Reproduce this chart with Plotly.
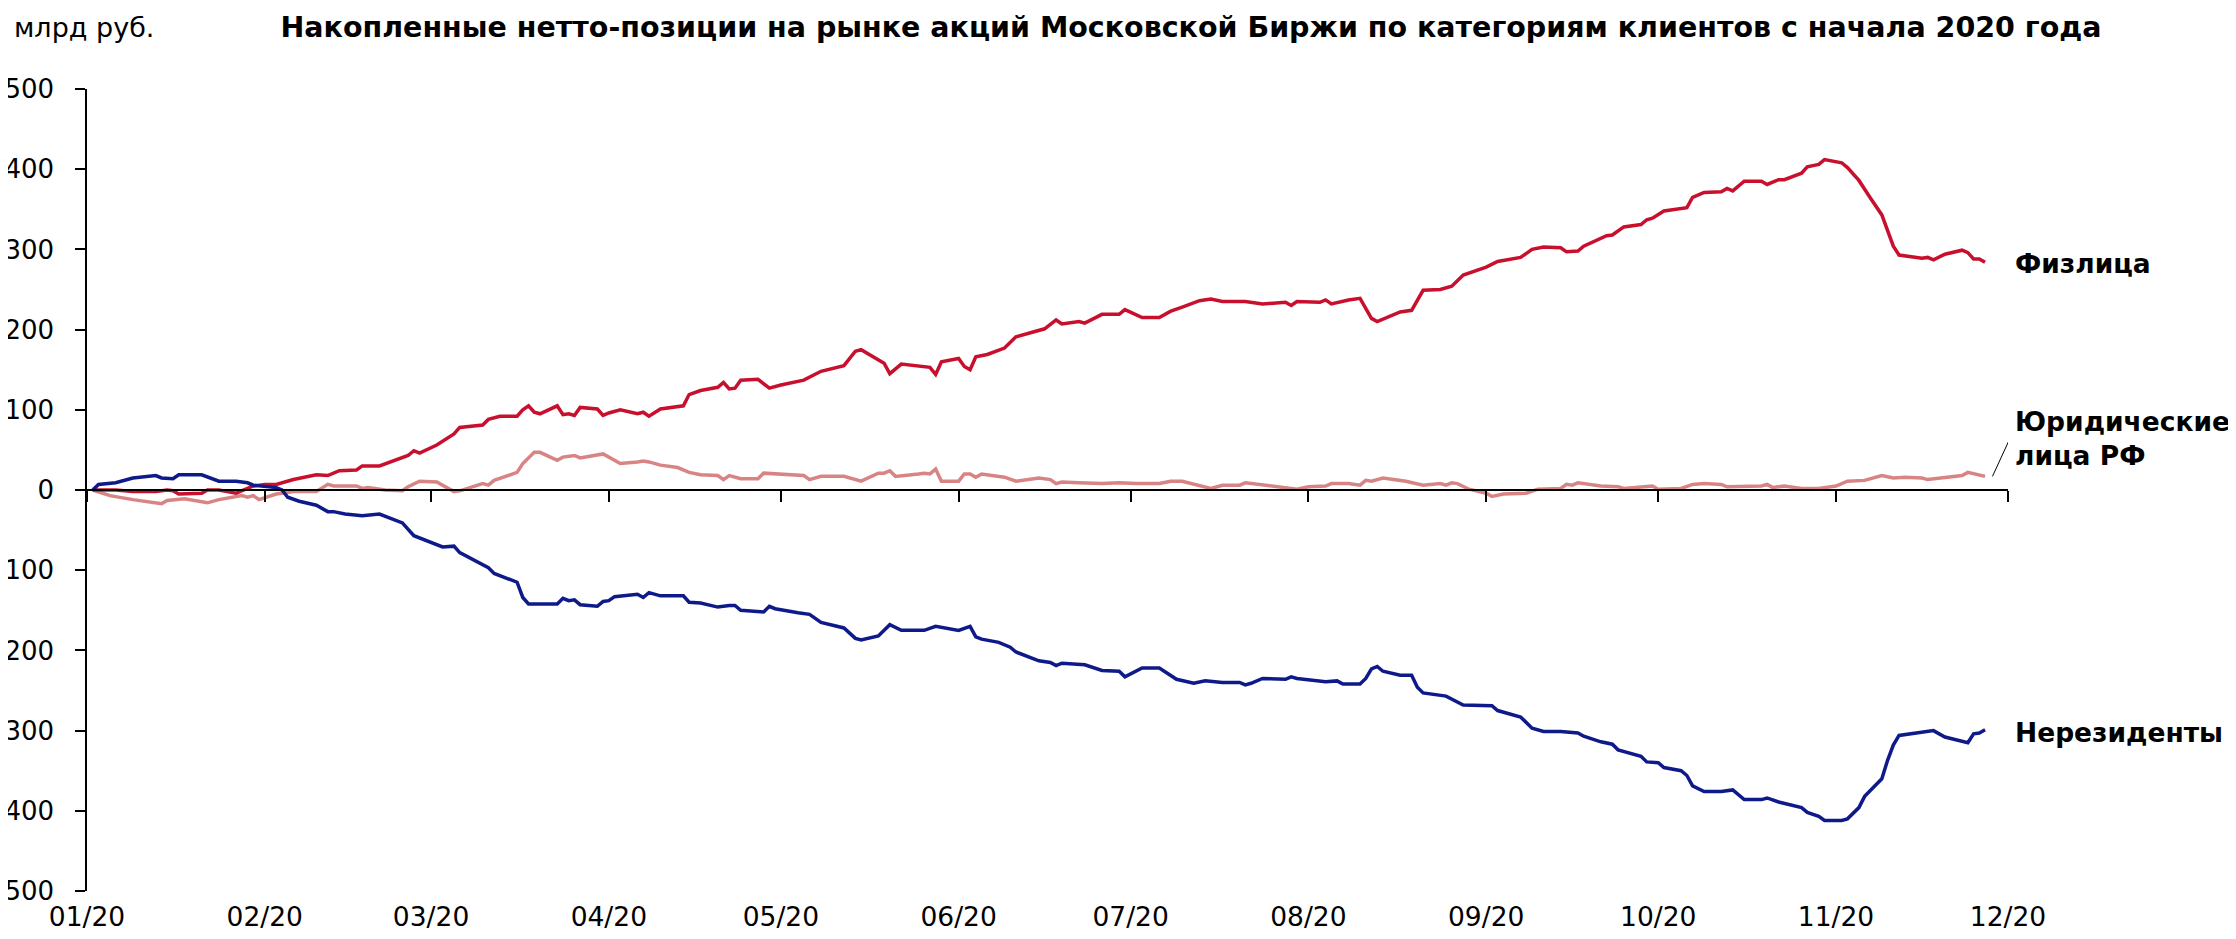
import plotly.graph_objects as go

# Физлица
fiz_dates = [
    "2020-01-02", "2020-01-06", "2020-01-09", "2020-01-13", "2020-01-15", "2020-01-16", "2020-01-17",
    "2020-01-21", "2020-01-22", "2020-01-24", "2020-01-27", "2020-01-28", "2020-01-30", "2020-02-01",
    "2020-02-03", "2020-02-06", "2020-02-10", "2020-02-12", "2020-02-14", "2020-02-17", "2020-02-18",
    "2020-02-21", "2020-02-24", "2020-02-26", "2020-02-27", "2020-02-28", "2020-03-02", "2020-03-05",
    "2020-03-06", "2020-03-10", "2020-03-11", "2020-03-13", "2020-03-16", "2020-03-17", "2020-03-18",
    "2020-03-19", "2020-03-20", "2020-03-23", "2020-03-24", "2020-03-25", "2020-03-26", "2020-03-27",
    "2020-03-30", "2020-03-31", "2020-04-01", "2020-04-03", "2020-04-06", "2020-04-07", "2020-04-08",
    "2020-04-10", "2020-04-14", "2020-04-15", "2020-04-17", "2020-04-20", "2020-04-21", "2020-04-22",
    "2020-04-23", "2020-04-24", "2020-04-27", "2020-04-29", "2020-05-01", "2020-05-05", "2020-05-08",
    "2020-05-12", "2020-05-14", "2020-05-15", "2020-05-19", "2020-05-20", "2020-05-22", "2020-05-25",
    "2020-05-27", "2020-05-28", "2020-05-29", "2020-06-01", "2020-06-02", "2020-06-03", "2020-06-04",
    "2020-06-06", "2020-06-09", "2020-06-11", "2020-06-16", "2020-06-18", "2020-06-19", "2020-06-22",
    "2020-06-23", "2020-06-26", "2020-06-29", "2020-06-30", "2020-07-03", "2020-07-06", "2020-07-08",
    "2020-07-10", "2020-07-13", "2020-07-15", "2020-07-17", "2020-07-21", "2020-07-24", "2020-07-28",
    "2020-07-29", "2020-07-30", "2020-08-03", "2020-08-04", "2020-08-05", "2020-08-08", "2020-08-10",
    "2020-08-12", "2020-08-13", "2020-08-17", "2020-08-19", "2020-08-21", "2020-08-24", "2020-08-26",
    "2020-08-28", "2020-09-01", "2020-09-03", "2020-09-07", "2020-09-09", "2020-09-11", "2020-09-14",
    "2020-09-15", "2020-09-17", "2020-09-18", "2020-09-22", "2020-09-23", "2020-09-25", "2020-09-28",
    "2020-09-29", "2020-09-30", "2020-10-02", "2020-10-06", "2020-10-07", "2020-10-09", "2020-10-12",
    "2020-10-13", "2020-10-14", "2020-10-16", "2020-10-19", "2020-10-20", "2020-10-22", "2020-10-23",
    "2020-10-26", "2020-10-27", "2020-10-29", "2020-10-30", "2020-11-02", "2020-11-03", "2020-11-05",
    "2020-11-07", "2020-11-09", "2020-11-11", "2020-11-12", "2020-11-16", "2020-11-17", "2020-11-18",
    "2020-11-20", "2020-11-23", "2020-11-24", "2020-11-25", "2020-11-26", "2020-11-27",
]
fiz_values = [
    0, 0, -2, -2, 0, -1, -5,
    -4, 0, 0, -4, -1, 5, 7,
    7, 13, 19, 18, 24, 25, 30,
    30, 38, 43, 49, 46, 56, 70,
    78, 81, 88, 92, 92, 100, 105,
    97, 95, 105, 94, 95, 93, 103,
    101, 93, 96, 100, 95, 97, 92,
    101, 105, 119, 124, 128, 134, 126,
    127, 137, 138, 127, 131, 137, 148,
    155, 173, 175, 158, 145, 157, 155,
    153, 144, 160, 164, 154, 150, 166,
    169, 177, 191, 201, 212, 207, 210,
    208, 219, 219, 225, 215, 215, 223,
    228, 236, 238, 235, 235, 232, 234,
    230, 235, 234, 237, 232, 237, 239,
    214, 210, 222, 224, 249, 250, 254,
    268, 278, 285, 290, 300, 303, 302,
    297, 298, 304, 317, 318, 328, 331,
    337, 339, 348, 352, 365, 371, 372,
    376, 373, 385, 385, 381, 387, 387,
    395, 403, 406, 412, 408, 402, 386,
    364, 343, 304, 293, 289, 290, 287,
    294, 299, 296, 288, 288, 284,
]

# Юридические лица РФ
yur_dates = [
    "2020-01-02", "2020-01-05", "2020-01-09", "2020-01-14", "2020-01-15", "2020-01-18", "2020-01-22",
    "2020-01-24", "2020-01-28", "2020-01-29", "2020-01-30", "2020-01-31", "2020-02-03", "2020-02-06",
    "2020-02-10", "2020-02-12", "2020-02-13", "2020-02-17", "2020-02-18", "2020-02-19", "2020-02-22",
    "2020-02-25", "2020-02-26", "2020-02-28", "2020-03-02", "2020-03-03", "2020-03-05", "2020-03-06",
    "2020-03-10", "2020-03-11", "2020-03-12", "2020-03-16", "2020-03-17", "2020-03-19", "2020-03-20",
    "2020-03-23", "2020-03-24", "2020-03-26", "2020-03-27", "2020-03-31", "2020-04-03", "2020-04-06",
    "2020-04-07", "2020-04-08", "2020-04-10", "2020-04-13", "2020-04-15", "2020-04-17", "2020-04-20",
    "2020-04-21", "2020-04-22", "2020-04-24", "2020-04-27", "2020-04-28", "2020-05-05", "2020-05-06",
    "2020-05-08", "2020-05-12", "2020-05-15", "2020-05-18", "2020-05-19", "2020-05-20", "2020-05-21",
    "2020-05-25", "2020-05-26", "2020-05-27", "2020-05-28", "2020-05-29", "2020-06-01", "2020-06-02",
    "2020-06-03", "2020-06-04", "2020-06-05", "2020-06-09", "2020-06-11", "2020-06-15", "2020-06-17",
    "2020-06-18", "2020-06-19", "2020-06-22", "2020-06-26", "2020-06-29", "2020-07-02", "2020-07-06",
    "2020-07-08", "2020-07-10", "2020-07-12", "2020-07-15", "2020-07-17", "2020-07-20", "2020-07-21",
    "2020-07-25", "2020-07-27", "2020-07-30", "2020-08-01", "2020-08-04", "2020-08-05", "2020-08-08",
    "2020-08-10", "2020-08-11", "2020-08-12", "2020-08-14", "2020-08-18", "2020-08-21", "2020-08-24",
    "2020-08-25", "2020-08-26", "2020-08-27", "2020-08-29", "2020-09-01", "2020-09-02", "2020-09-04",
    "2020-09-08", "2020-09-10", "2020-09-14", "2020-09-15", "2020-09-16", "2020-09-17", "2020-09-21",
    "2020-09-24", "2020-09-25", "2020-09-30", "2020-10-01", "2020-10-05", "2020-10-07", "2020-10-09",
    "2020-10-12", "2020-10-13", "2020-10-19", "2020-10-20", "2020-10-21", "2020-10-23", "2020-10-26",
    "2020-10-29", "2020-11-01", "2020-11-03", "2020-11-06", "2020-11-09", "2020-11-11", "2020-11-13",
    "2020-11-16", "2020-11-17", "2020-11-23", "2020-11-24", "2020-11-27",
]
yur_values = [
    0, -7, -12, -17, -13, -11, -16,
    -12, -7, -9, -7, -12, -5, -2,
    -2, 7, 5, 5, 2, 3, 0,
    -1, 4, 11, 10, 6, -2, -1,
    8, 6, 12, 22, 33, 47, 47,
    37, 41, 43, 40, 45, 33, 35,
    36, 35, 31, 28, 22, 19, 18,
    13, 18, 14, 14, 21, 18, 13,
    17, 17, 11, 21, 21, 24, 17,
    20, 21, 20, 26, 11, 11, 20,
    20, 16, 20, 16, 11, 15, 13,
    8, 10, 9, 8, 9, 8, 8,
    11, 11, 7, 2, 6, 6, 9,
    5, 4, 1, 4, 5, 8, 8,
    6, 12, 11, 15, 11, 6, 8,
    6, 9, 8, 1, -4, -8, -5,
    -4, 1, 2, 7, 6, 9, 5,
    4, 2, 5, 1, 2, 7, 8,
    7, 4, 5, 7, 3, 5, 2,
    2, 5, 11, 12, 18, 15, 16,
    15, 13, 18, 22, 17,
]

# Нерезиденты
nerez_dates = [
    "2020-01-02", "2020-01-03", "2020-01-06", "2020-01-09", "2020-01-13", "2020-01-14", "2020-01-16",
    "2020-01-17", "2020-01-21", "2020-01-24", "2020-01-27", "2020-01-29", "2020-01-30", "2020-02-03",
    "2020-02-04", "2020-02-05", "2020-02-07", "2020-02-10", "2020-02-12", "2020-02-13", "2020-02-15",
    "2020-02-18", "2020-02-21", "2020-02-25", "2020-02-27", "2020-03-03", "2020-03-05", "2020-03-06",
    "2020-03-11", "2020-03-12", "2020-03-16", "2020-03-17", "2020-03-18", "2020-03-20", "2020-03-23",
    "2020-03-24", "2020-03-25", "2020-03-26", "2020-03-27", "2020-03-30", "2020-03-31", "2020-04-01",
    "2020-04-02", "2020-04-06", "2020-04-07", "2020-04-08", "2020-04-10", "2020-04-14", "2020-04-15",
    "2020-04-17", "2020-04-20", "2020-04-22", "2020-04-23", "2020-04-24", "2020-04-28", "2020-04-29",
    "2020-04-30", "2020-05-04", "2020-05-06", "2020-05-08", "2020-05-12", "2020-05-14", "2020-05-15",
    "2020-05-18", "2020-05-20", "2020-05-22", "2020-05-26", "2020-05-28", "2020-06-01", "2020-06-03",
    "2020-06-04", "2020-06-05", "2020-06-08", "2020-06-10", "2020-06-11", "2020-06-15", "2020-06-17",
    "2020-06-18", "2020-06-19", "2020-06-23", "2020-06-26", "2020-06-29", "2020-06-30", "2020-07-03",
    "2020-07-06", "2020-07-09", "2020-07-12", "2020-07-14", "2020-07-17", "2020-07-20", "2020-07-21",
    "2020-07-22", "2020-07-24", "2020-07-28", "2020-07-29", "2020-07-30", "2020-08-04", "2020-08-06",
    "2020-08-07", "2020-08-10", "2020-08-11", "2020-08-12", "2020-08-13", "2020-08-14", "2020-08-17",
    "2020-08-19", "2020-08-20", "2020-08-21", "2020-08-25", "2020-08-28", "2020-08-31", "2020-09-02",
    "2020-09-03", "2020-09-07", "2020-09-09", "2020-09-11", "2020-09-14", "2020-09-17", "2020-09-18",
    "2020-09-21", "2020-09-23", "2020-09-24", "2020-09-28", "2020-09-29", "2020-10-01", "2020-10-02",
    "2020-10-05", "2020-10-06", "2020-10-07", "2020-10-09", "2020-10-12", "2020-10-14", "2020-10-16",
    "2020-10-19", "2020-10-20", "2020-10-22", "2020-10-26", "2020-10-27", "2020-10-29", "2020-10-30",
    "2020-11-02", "2020-11-03", "2020-11-05", "2020-11-06", "2020-11-09", "2020-11-10", "2020-11-11",
    "2020-11-12", "2020-11-15", "2020-11-18", "2020-11-20", "2020-11-24", "2020-11-25", "2020-11-26",
    "2020-11-27",
]
nerez_values = [
    0, 7, 9, 15, 18, 15, 14,
    19, 19, 11, 11, 9, 6, 3,
    0, -9, -14, -19, -27, -27, -30,
    -32, -30, -41, -57, -71, -70, -78,
    -97, -104, -115, -134, -142, -142, -142,
    -135, -138, -137, -143, -145, -139, -138,
    -133, -130, -134, -128, -132, -132, -140,
    -141, -146, -144, -144, -150, -152, -145,
    -148, -153, -155, -165, -172, -185, -187,
    -182, -168, -175, -175, -170, -175, -170,
    -183, -186, -190, -196, -202, -213, -215,
    -219, -216, -218, -225, -226, -233, -222,
    -222, -236, -241, -238, -240, -240, -243,
    -241, -235, -236, -233, -235, -239, -238,
    -242, -242, -235, -223, -220, -226, -231,
    -231, -246, -253, -257, -268, -268, -269,
    -275, -283, -297, -301, -301, -303, -307,
    -314, -317, -324, -332, -339, -340, -346,
    -350, -356, -369, -376, -376, -374, -386,
    -386, -384, -389, -396, -402, -407, -412,
    -412, -410, -396, -382, -360, -337, -318,
    -306, -303, -300, -308, -315, -304, -303,
    -299,
]

# подписи оси Y (с обычным дефисом, как в оригинале)
y_ticks = [-500, -400, -300, -200, -100, 0, 100, 200, 300, 400, 500]
y_ticktext = ["-500", "-400", "-300", "-200", "-100", "0", "100", "200", "300", "400", "500"]

font = "DejaVu Sans, Verdana, sans-serif"

fig = go.Figure()
fig.add_trace(go.Scatter(x=yur_dates, y=yur_values, mode="lines",
                         line=dict(color="#D98484", width=3.5), name="Юридические лица РФ"))
fig.add_trace(go.Scatter(x=fiz_dates, y=fiz_values, mode="lines",
                         line=dict(color="#C8102E", width=3.5), name="Физлица"))
fig.add_trace(go.Scatter(x=nerez_dates, y=nerez_values, mode="lines",
                         line=dict(color="#0F1A8A", width=3.5), name="Нерезиденты"))

# страница имеет отступ 8px, поэтому фигура чуть меньше окна
fig.update_layout(
    width=2220,
    height=923,
    margin=dict(l=79, r=220, t=81, b=40),
    plot_bgcolor="white",
    paper_bgcolor="white",
    showlegend=False,
    font=dict(family=font, color="black"),
    title=dict(
        text="<b>Накопленные нетто-позиции на рынке акций Московской Биржи по категориям клиентов с начала 2020 года</b>",
        x=0.5329, xanchor="center", y=0.9794, yanchor="middle",
        font=dict(size=28.5, family=font, color="black"),
    ),
    xaxis=dict(
        type="date",
        range=["2020-01-01", "2020-12-01"],
        tick0="2020-01-01",
        dtick="M1",
        tickformat="%m/%y",
        anchor="free",
        position=0.5,
        showline=True,
        linecolor="black",
        linewidth=1.5,
        ticks="outside",
        ticklen=11,
        tickwidth=1.5,
        tickcolor="black",
        ticklabelstandoff=392,
        tickfont=dict(size=26.5),
        showgrid=False,
        zeroline=False,
        automargin=False,
    ),
    yaxis=dict(
        range=[-500, 500],
        tickvals=y_ticks,
        ticktext=y_ticktext,
        showline=True,
        linecolor="black",
        linewidth=1.5,
        ticks="outside",
        ticklen=10,
        tickwidth=1.5,
        tickcolor="black",
        ticklabelstandoff=16,
        tickfont=dict(size=26),
        showgrid=False,
        zeroline=False,
        automargin=False,
    ),
)

fig.add_annotation(text="млрд руб.", xref="paper", yref="paper", x=-0.039, y=1.0773,
                   xanchor="left", yanchor="middle", showarrow=False, font=dict(size=27))

label_font = dict(size=26.5, family=font, color="black")
fig.add_annotation(text="<b>Физлица</b>", xref="paper", yref="y", x=1.0026, y=282,
                   xanchor="left", yanchor="middle", showarrow=False, font=label_font)
fig.add_annotation(text="<b>Юридические<br>лица РФ</b>", xref="paper", yref="y", x=1.0026, y=64,
                   xanchor="left", yanchor="middle", align="left", showarrow=False, font=label_font)
fig.add_annotation(text="<b>Нерезиденты</b>", xref="paper", yref="y", x=1.0026, y=-302,
                   xanchor="left", yanchor="middle", showarrow=False, font=label_font)

# выноска к подписи юрлиц
fig.add_shape(type="line", xref="x", yref="y",
              x0="2020-11-28 07:00", y0=17, x1="2020-12-01 03:00", y1=61,
              line=dict(color="black", width=1))

fig.write_html("out.html")
